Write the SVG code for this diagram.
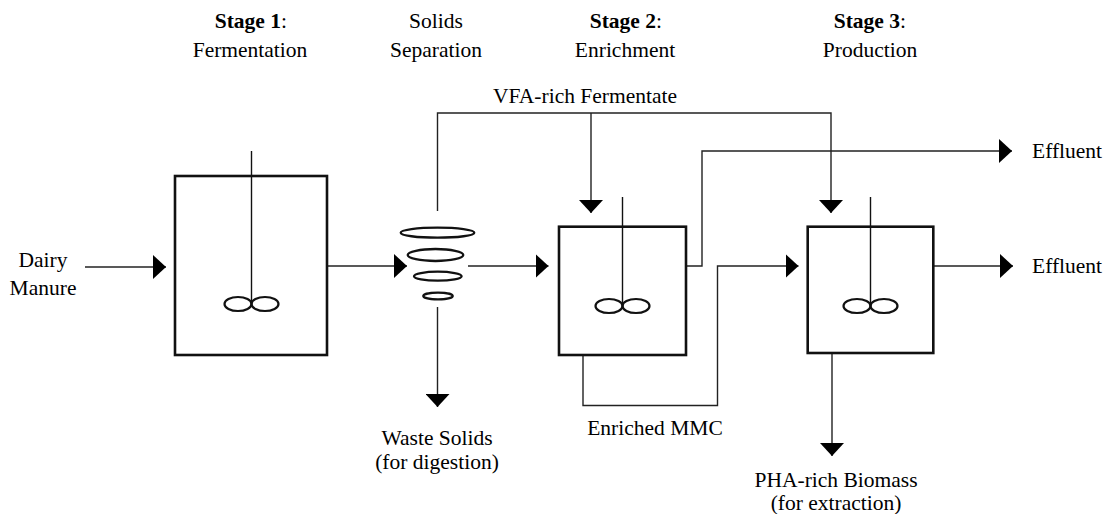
<svg xmlns="http://www.w3.org/2000/svg" width="1105" height="514" viewBox="0 0 1105 514">
<defs>
<marker id="ah" markerUnits="userSpaceOnUse" markerWidth="14" markerHeight="24" viewBox="0 0 14 24" refX="13" refY="12" orient="auto">
<path d="M0,0 L13,12 L0,24 z" fill="#000"/>
</marker>
</defs>
<rect width="1105" height="514" fill="#fff"/>

<g id="labels">
<text font-family="Times New Roman, Liberation Serif, serif" font-size="21.5" text-anchor="middle" x="250" y="57">Fermentation</text>
<text font-family="Times New Roman, Liberation Serif, serif" font-size="21.5" text-anchor="middle" x="436" y="28">Solids</text>
<text font-family="Times New Roman, Liberation Serif, serif" font-size="21.5" text-anchor="middle" x="436" y="57">Separation</text>
<text font-family="Times New Roman, Liberation Serif, serif" font-size="21.5" text-anchor="middle" x="625" y="57">Enrichment</text>
<text font-family="Times New Roman, Liberation Serif, serif" font-size="21.5" text-anchor="middle" x="870" y="57">Production</text>
<text font-family="Times New Roman, Liberation Serif, serif" font-size="21.5" text-anchor="middle" x="585" y="103">VFA-rich Fermentate</text>
<text font-family="Times New Roman, Liberation Serif, serif" font-size="21.5" x="1032" y="158">Effluent</text>
<text font-family="Times New Roman, Liberation Serif, serif" font-size="21.5" x="1032" y="273">Effluent</text>
<text font-family="Times New Roman, Liberation Serif, serif" font-size="21.5" text-anchor="middle" x="43" y="267">Dairy</text>
<text font-family="Times New Roman, Liberation Serif, serif" font-size="21.5" text-anchor="middle" x="43" y="295">Manure</text>
<text font-family="Times New Roman, Liberation Serif, serif" font-size="21.5" text-anchor="middle" x="437" y="445">Waste Solids</text>
<text font-family="Times New Roman, Liberation Serif, serif" font-size="21.5" text-anchor="middle" x="437" y="469">(for digestion)</text>
<text font-family="Times New Roman, Liberation Serif, serif" font-size="21.5" text-anchor="middle" x="655" y="435">Enriched MMC</text>
<text font-family="Times New Roman, Liberation Serif, serif" font-size="21.5" text-anchor="middle" x="836" y="487">PHA-rich Biomass</text>
<text font-family="Times New Roman, Liberation Serif, serif" font-size="21.5" text-anchor="middle" x="836" y="510">(for extraction)</text>
<text font-family="Times New Roman, Liberation Serif, serif" font-size="21.5" x="281" y="28">:</text>
<text font-family="Times New Roman, Liberation Serif, serif" font-size="21.5" x="656" y="28">:</text>
<text font-family="Times New Roman, Liberation Serif, serif" font-size="21.5" x="900" y="28">:</text>
<text font-family="Times New Roman, Liberation Serif, serif" font-size="21.5" font-weight="bold" text-anchor="end" x="281" y="28">Stage 1</text>
<text font-family="Times New Roman, Liberation Serif, serif" font-size="21.5" font-weight="bold" text-anchor="end" x="656" y="28">Stage 2</text>
<text font-family="Times New Roman, Liberation Serif, serif" font-size="21.5" font-weight="bold" text-anchor="end" x="900" y="28">Stage 3</text>
</g>

<g id="connectors" fill="none" stroke="#222" stroke-width="1.4" marker-end="url(#ah)">
<path d="M85,267 H166"/>
<path d="M327,266 H407"/>
<path d="M468,266 H548.5"/>
<path d="M437.5,211 V113 H831 V213"/>
<path d="M591,113 V213"/>
<path d="M686,266 H702 V151 H1012"/>
<path d="M583,355 V405.5 H717.5 V266 H798.5"/>
<path d="M933,266 H1013"/>
<path d="M437.5,307 V407"/>
<path d="M832,353 V456"/>
</g>

<g id="stage1-fermenter" fill="none" stroke="#111">
<rect x="175" y="176" width="152" height="179" stroke-width="2.6"/>
<line x1="251.5" y1="151" x2="251.5" y2="304" stroke-width="1.4"/>
<ellipse cx="238" cy="304" rx="13.5" ry="7" stroke-width="2.2"/>
<ellipse cx="265" cy="304" rx="13.5" ry="7" stroke-width="2.2"/>
</g>

<g id="solids-separator" fill="none" stroke="#111" stroke-width="2.3">
<ellipse cx="437.5" cy="232.7" rx="36.8" ry="5"/>
<ellipse cx="435.5" cy="255" rx="27.8" ry="6"/>
<ellipse cx="437.8" cy="276.2" rx="23.8" ry="4.5"/>
<ellipse cx="438" cy="296" rx="14.7" ry="3.3"/>
</g>

<g id="stage2-enrichment" fill="none" stroke="#111">
<rect x="559" y="226.7" width="127" height="128.3" stroke-width="2.6"/>
<line x1="622.5" y1="197" x2="622.5" y2="306" stroke-width="1.4"/>
<ellipse cx="609" cy="306" rx="13.5" ry="7" stroke-width="2.2"/>
<ellipse cx="636" cy="306" rx="13.5" ry="7" stroke-width="2.2"/>
</g>

<g id="stage3-production" fill="none" stroke="#111">
<rect x="807.7" y="226.7" width="125.6" height="126.3" stroke-width="2.6"/>
<line x1="870.5" y1="197" x2="870.5" y2="306" stroke-width="1.4"/>
<ellipse cx="857" cy="306" rx="13.5" ry="7" stroke-width="2.2"/>
<ellipse cx="884" cy="306" rx="13.5" ry="7" stroke-width="2.2"/>
</g>
</svg>
